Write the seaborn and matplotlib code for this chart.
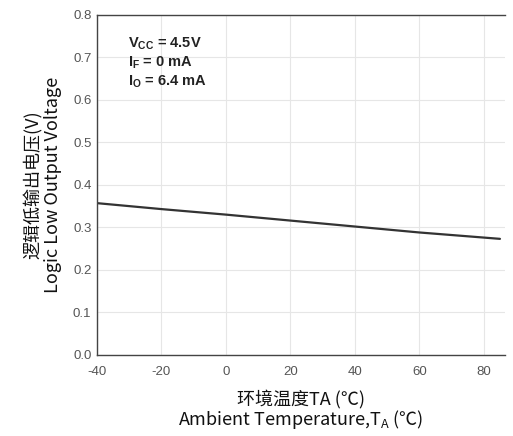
import numpy as np
import matplotlib
matplotlib.use('Agg')
import matplotlib.pyplot as plt
import seaborn as sns
import pandas as pd

# data
temp = [-40, -20, 0, 20, 40, 60, 85]
vol = [0.357, 0.343, 0.330, 0.316, 0.302, 0.288, 0.273]
xticks = [-40, -20, 0, 20, 40, 60, 80]
yticks = [0.0, 0.1, 0.2, 0.3, 0.4, 0.5, 0.6, 0.7, 0.8]

sns.set_theme(style='whitegrid')
plt.rcParams['font.family'] = ['Noto Sans CJK SC', 'DejaVu Sans']
plt.rcParams['axes.unicode_minus'] = False
plt.rcParams['mathtext.fontset'] = 'custom'
plt.rcParams['mathtext.rm'] = 'Noto Sans CJK SC'
plt.rcParams['mathtext.bf'] = 'Liberation Sans:bold'

fig = plt.figure(figsize=(5.13, 4.36), dpi=100)
ax = fig.add_axes([0.189, 0.186, 0.795, 0.780])

df = pd.DataFrame({'T': temp, 'V': vol})
sns.lineplot(data=df, x='T', y='V', ax=ax, color='#333333', linewidth=1.6)

ax.set_xlim(-40, 86.5)
ax.set_ylim(0, 0.8)
ax.set_xticks(xticks)
ax.set_yticks(yticks)
ax.set_xticklabels([str(v) for v in xticks])
ax.set_yticklabels(['%.1f' % v for v in yticks])
for lab in ax.get_xticklabels() + ax.get_yticklabels():
    lab.set_family('Liberation Sans')
    lab.set_color('#555555')
    lab.set_fontsize(9.5)
ax.tick_params(axis='x', length=0, pad=8)
ax.tick_params(axis='y', length=0, pad=4)
ax.grid(True, color='#e6e6e6', linewidth=0.8)

for s in ['left', 'bottom', 'top']:
    ax.spines[s].set_visible(True)
    ax.spines[s].set_color('#444444')
    ax.spines[s].set_linewidth(1.0)
ax.spines['right'].set_visible(False)

ax.set_xlabel('环境温度TA (℃)\nAmbient Temperature,T$_\\mathrm{A}$ (℃)',
              fontsize=13, color='#111111', linespacing=1.0, labelpad=8)
ax.set_ylabel('逻辑低输出电压(V)\nLogic Low Output Voltage',
              fontsize=13, color='#111111', linespacing=1.05, labelpad=8)

txt = ('$\\mathbf{V_{CC}}$ = 4.5V\n'
       '$\\mathbf{I_F}$ = 0 mA\n'
       '$\\mathbf{I_O}$ = 6.4 mA')
ax.text(0.075, 0.94, txt, transform=ax.transAxes, va='top', ha='left',
        fontsize=10.5, fontweight='bold', family='Liberation Sans',
        color='#222222', linespacing=1.25)

fig.savefig('out.png', dpi=100)
